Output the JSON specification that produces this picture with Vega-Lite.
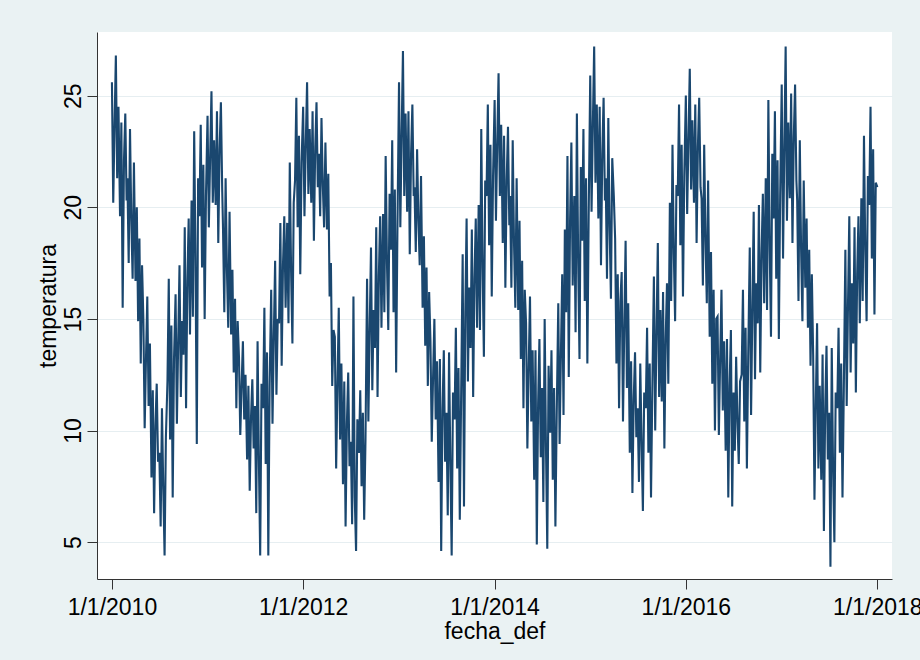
{
"$schema": "https://vega.github.io/schema/vega-lite/v6.json",
"width": 795,
"height": 547,
"autosize": {"type": "none"},
"padding": {"left": 97, "top": 32, "right": 28, "bottom": 81},
"background": "#EAF2F3",
"view": {"fill": "white", "stroke": null},
"config": {"font": "Liberation Sans"},
"data": {"values": [
{"d":"2010-01-01","t":25.6},{"d":"2010-01-06","t":20.2},{"d":"2010-01-11","t":23.7},{"d":"2010-01-16","t":26.8},{"d":"2010-01-21","t":21.3},{"d":"2010-01-26","t":24.5},
{"d":"2010-02-01","t":19.6},{"d":"2010-02-06","t":23.8},{"d":"2010-02-11","t":15.5},{"d":"2010-02-16","t":22.1},{"d":"2010-02-21","t":24.2},{"d":"2010-02-26","t":20.3},
{"d":"2010-03-01","t":21.3},{"d":"2010-03-06","t":17.5},{"d":"2010-03-11","t":23.5},{"d":"2010-03-16","t":19.4},{"d":"2010-03-21","t":16.8},{"d":"2010-03-26","t":22.0},
{"d":"2010-04-01","t":16.7},{"d":"2010-04-06","t":20.0},{"d":"2010-04-11","t":14.9},{"d":"2010-04-16","t":18.6},{"d":"2010-04-21","t":13.0},{"d":"2010-04-26","t":17.4},
{"d":"2010-05-01","t":15.0},{"d":"2010-05-06","t":10.1},{"d":"2010-05-11","t":13.2},{"d":"2010-05-16","t":16.0},{"d":"2010-05-21","t":11.1},{"d":"2010-05-26","t":13.9},
{"d":"2010-06-01","t":7.9},{"d":"2010-06-06","t":11.8},{"d":"2010-06-11","t":6.3},{"d":"2010-06-16","t":10.2},{"d":"2010-06-21","t":12.1},{"d":"2010-06-26","t":8.6},
{"d":"2010-07-01","t":9.0},{"d":"2010-07-06","t":5.7},{"d":"2010-07-11","t":11.0},{"d":"2010-07-16","t":7.4},{"d":"2010-07-21","t":4.4},{"d":"2010-07-26","t":9.7},
{"d":"2010-08-01","t":12.2},{"d":"2010-08-06","t":16.8},{"d":"2010-08-11","t":9.6},{"d":"2010-08-16","t":14.7},{"d":"2010-08-21","t":7.0},{"d":"2010-08-26","t":13.2},
{"d":"2010-09-01","t":16.1},{"d":"2010-09-06","t":10.3},{"d":"2010-09-11","t":14.0},{"d":"2010-09-16","t":17.4},{"d":"2010-09-21","t":11.5},{"d":"2010-09-26","t":14.9},
{"d":"2010-10-01","t":13.4},{"d":"2010-10-06","t":19.1},{"d":"2010-10-11","t":11.0},{"d":"2010-10-16","t":16.7},{"d":"2010-10-21","t":19.5},{"d":"2010-10-26","t":14.3},
{"d":"2010-11-01","t":20.3},{"d":"2010-11-06","t":15.1},{"d":"2010-11-11","t":23.4},{"d":"2010-11-16","t":17.7},{"d":"2010-11-21","t":9.4},{"d":"2010-11-26","t":21.3},
{"d":"2010-12-01","t":19.6},{"d":"2010-12-06","t":23.7},{"d":"2010-12-11","t":17.3},{"d":"2010-12-16","t":21.9},{"d":"2010-12-21","t":15.0},{"d":"2010-12-26","t":20.5},
{"d":"2011-01-01","t":24.1},{"d":"2011-01-06","t":19.1},{"d":"2011-01-11","t":22.3},{"d":"2011-01-16","t":25.2},{"d":"2011-01-21","t":20.2},{"d":"2011-01-26","t":23.0},
{"d":"2011-02-01","t":20.1},{"d":"2011-02-06","t":24.3},{"d":"2011-02-11","t":18.4},{"d":"2011-02-16","t":22.6},{"d":"2011-02-21","t":24.7},{"d":"2011-02-26","t":20.8},
{"d":"2011-03-01","t":19.1},{"d":"2011-03-06","t":15.3},{"d":"2011-03-11","t":21.3},{"d":"2011-03-16","t":17.2},{"d":"2011-03-21","t":14.6},{"d":"2011-03-26","t":19.8},
{"d":"2011-04-01","t":14.3},{"d":"2011-04-06","t":17.2},{"d":"2011-04-11","t":12.6},{"d":"2011-04-16","t":15.9},{"d":"2011-04-21","t":11.0},{"d":"2011-04-26","t":14.9},
{"d":"2011-05-01","t":13.3},{"d":"2011-05-06","t":9.8},{"d":"2011-05-11","t":12.0},{"d":"2011-05-16","t":14.0},{"d":"2011-05-21","t":10.5},{"d":"2011-05-26","t":12.5},
{"d":"2011-06-01","t":8.7},{"d":"2011-06-06","t":12.0},{"d":"2011-06-11","t":7.3},{"d":"2011-06-16","t":10.6},{"d":"2011-06-21","t":12.3},{"d":"2011-06-26","t":9.2},
{"d":"2011-07-01","t":11.1},{"d":"2011-07-06","t":6.3},{"d":"2011-07-11","t":14.0},{"d":"2011-07-16","t":8.7},{"d":"2011-07-21","t":4.4},{"d":"2011-07-26","t":12.1},
{"d":"2011-08-01","t":11.0},{"d":"2011-08-06","t":15.5},{"d":"2011-08-11","t":8.5},{"d":"2011-08-16","t":13.5},{"d":"2011-08-21","t":4.4},{"d":"2011-08-26","t":12.0},
{"d":"2011-09-01","t":16.3},{"d":"2011-09-06","t":10.3},{"d":"2011-09-11","t":14.2},{"d":"2011-09-16","t":17.6},{"d":"2011-09-21","t":11.6},{"d":"2011-09-26","t":15.0},
{"d":"2011-10-01","t":14.8},{"d":"2011-10-06","t":19.3},{"d":"2011-10-11","t":12.9},{"d":"2011-10-16","t":17.4},{"d":"2011-10-21","t":19.6},{"d":"2011-10-26","t":15.5},
{"d":"2011-11-01","t":19.3},{"d":"2011-11-06","t":14.8},{"d":"2011-11-11","t":22.0},{"d":"2011-11-16","t":17.1},{"d":"2011-11-21","t":13.9},{"d":"2011-11-26","t":20.2},
{"d":"2011-12-01","t":21.2},{"d":"2011-12-06","t":24.9},{"d":"2011-12-11","t":19.1},{"d":"2011-12-16","t":23.2},{"d":"2011-12-21","t":17.0},{"d":"2011-12-26","t":22.0},
{"d":"2012-01-01","t":24.5},{"d":"2012-01-06","t":19.6},{"d":"2012-01-11","t":22.8},{"d":"2012-01-16","t":25.6},{"d":"2012-01-21","t":20.6},{"d":"2012-01-26","t":23.5},
{"d":"2012-02-01","t":20.2},{"d":"2012-02-06","t":24.3},{"d":"2012-02-11","t":18.5},{"d":"2012-02-16","t":22.6},{"d":"2012-02-21","t":24.7},{"d":"2012-02-26","t":20.9},
{"d":"2012-03-01","t":22.4},{"d":"2012-03-06","t":19.6},{"d":"2012-03-11","t":24.0},{"d":"2012-03-16","t":21.0},{"d":"2012-03-21","t":19.1},{"d":"2012-03-26","t":22.9},
{"d":"2012-04-01","t":19.0},{"d":"2012-04-06","t":21.5},{"d":"2012-04-11","t":16.0},{"d":"2012-04-16","t":17.5},{"d":"2012-04-21","t":12.0},{"d":"2012-04-26","t":14.5},
{"d":"2012-05-01","t":14.2},{"d":"2012-05-06","t":8.3},{"d":"2012-05-11","t":12.1},{"d":"2012-05-16","t":15.5},{"d":"2012-05-21","t":9.6},{"d":"2012-05-26","t":13.0},
{"d":"2012-06-01","t":7.6},{"d":"2012-06-06","t":12.2},{"d":"2012-06-11","t":5.7},{"d":"2012-06-16","t":10.3},{"d":"2012-06-21","t":12.6},{"d":"2012-06-26","t":8.4},
{"d":"2012-07-01","t":9.5},{"d":"2012-07-06","t":5.8},{"d":"2012-07-11","t":16.0},{"d":"2012-07-16","t":7.0},{"d":"2012-07-21","t":4.6},{"d":"2012-07-26","t":10.5},
{"d":"2012-08-01","t":9.0},{"d":"2012-08-06","t":11.8},{"d":"2012-08-11","t":7.5},{"d":"2012-08-16","t":10.8},{"d":"2012-08-21","t":6.0},{"d":"2012-08-26","t":9.6},
{"d":"2012-09-01","t":16.8},{"d":"2012-09-06","t":10.4},{"d":"2012-09-11","t":14.5},{"d":"2012-09-16","t":18.2},{"d":"2012-09-21","t":11.8},{"d":"2012-09-26","t":15.4},
{"d":"2012-10-01","t":13.7},{"d":"2012-10-06","t":19.1},{"d":"2012-10-11","t":11.5},{"d":"2012-10-16","t":16.9},{"d":"2012-10-21","t":19.6},{"d":"2012-10-26","t":14.6},
{"d":"2012-11-01","t":19.7},{"d":"2012-11-06","t":15.3},{"d":"2012-11-11","t":22.3},{"d":"2012-11-16","t":17.5},{"d":"2012-11-21","t":14.5},{"d":"2012-11-26","t":20.6},
{"d":"2012-12-01","t":18.1},{"d":"2012-12-06","t":23.0},{"d":"2012-12-11","t":15.3},{"d":"2012-12-16","t":20.8},{"d":"2012-12-21","t":12.6},{"d":"2012-12-26","t":19.1},
{"d":"2013-01-01","t":25.6},{"d":"2013-01-06","t":19.1},{"d":"2013-01-11","t":23.3},{"d":"2013-01-16","t":27.0},{"d":"2013-01-21","t":20.5},{"d":"2013-01-26","t":24.2},
{"d":"2013-02-01","t":19.8},{"d":"2013-02-06","t":24.3},{"d":"2013-02-11","t":17.9},{"d":"2013-02-16","t":22.4},{"d":"2013-02-21","t":24.6},{"d":"2013-02-26","t":20.5},
{"d":"2013-03-01","t":20.9},{"d":"2013-03-06","t":18.0},{"d":"2013-03-11","t":22.6},{"d":"2013-03-16","t":19.4},{"d":"2013-03-21","t":17.4},{"d":"2013-03-26","t":21.4},
{"d":"2013-04-01","t":15.5},{"d":"2013-04-06","t":18.7},{"d":"2013-04-11","t":13.8},{"d":"2013-04-16","t":17.3},{"d":"2013-04-21","t":12.0},{"d":"2013-04-26","t":16.2},
{"d":"2013-05-01","t":14.0},{"d":"2013-05-06","t":9.5},{"d":"2013-05-11","t":12.4},{"d":"2013-05-16","t":15.0},{"d":"2013-05-21","t":10.5},{"d":"2013-05-26","t":13.1},
{"d":"2013-06-01","t":7.7},{"d":"2013-06-06","t":13.2},{"d":"2013-06-11","t":4.6},{"d":"2013-06-16","t":10.9},{"d":"2013-06-21","t":13.6},{"d":"2013-06-26","t":8.6},
{"d":"2013-07-01","t":10.8},{"d":"2013-07-06","t":6.2},{"d":"2013-07-11","t":13.5},{"d":"2013-07-16","t":8.5},{"d":"2013-07-21","t":4.4},{"d":"2013-07-26","t":11.7},
{"d":"2013-08-01","t":10.5},{"d":"2013-08-06","t":14.6},{"d":"2013-08-11","t":8.3},{"d":"2013-08-16","t":12.8},{"d":"2013-08-21","t":6.0},{"d":"2013-08-26","t":11.4},
{"d":"2013-09-01","t":17.9},{"d":"2013-09-06","t":6.6},{"d":"2013-09-11","t":15.3},{"d":"2013-09-16","t":19.5},{"d":"2013-09-21","t":12.2},{"d":"2013-09-26","t":16.4},
{"d":"2013-10-01","t":13.7},{"d":"2013-10-06","t":19.0},{"d":"2013-10-11","t":11.5},{"d":"2013-10-16","t":16.8},{"d":"2013-10-21","t":19.5},{"d":"2013-10-26","t":14.6},
{"d":"2013-11-01","t":20.1},{"d":"2013-11-06","t":14.5},{"d":"2013-11-11","t":23.5},{"d":"2013-11-16","t":17.3},{"d":"2013-11-21","t":13.3},{"d":"2013-11-26","t":21.2},
{"d":"2013-12-01","t":20.5},{"d":"2013-12-06","t":24.6},{"d":"2013-12-11","t":18.3},{"d":"2013-12-16","t":22.8},{"d":"2013-12-21","t":16.0},{"d":"2013-12-26","t":21.4},
{"d":"2014-01-01","t":24.8},{"d":"2014-01-06","t":19.4},{"d":"2014-01-11","t":22.9},{"d":"2014-01-16","t":26.0},{"d":"2014-01-21","t":20.5},{"d":"2014-01-26","t":23.7},
{"d":"2014-02-01","t":18.4},{"d":"2014-02-06","t":23.2},{"d":"2014-02-11","t":16.4},{"d":"2014-02-16","t":21.2},{"d":"2014-02-21","t":23.6},{"d":"2014-02-26","t":19.2},
{"d":"2014-03-01","t":20.5},{"d":"2014-03-06","t":16.4},{"d":"2014-03-11","t":23.0},{"d":"2014-03-16","t":18.4},{"d":"2014-03-21","t":15.5},{"d":"2014-03-26","t":21.3},
{"d":"2014-04-01","t":15.4},{"d":"2014-04-06","t":19.4},{"d":"2014-04-11","t":13.2},{"d":"2014-04-16","t":17.6},{"d":"2014-04-21","t":11.0},{"d":"2014-04-26","t":16.3},
{"d":"2014-05-01","t":14.8},{"d":"2014-05-06","t":9.2},{"d":"2014-05-11","t":12.8},{"d":"2014-05-16","t":16.0},{"d":"2014-05-21","t":10.4},{"d":"2014-05-26","t":13.6},
{"d":"2014-06-01","t":7.8},{"d":"2014-06-06","t":13.6},{"d":"2014-06-11","t":4.9},{"d":"2014-06-16","t":11.2},{"d":"2014-06-21","t":14.1},{"d":"2014-06-26","t":8.8},
{"d":"2014-07-01","t":11.9},{"d":"2014-07-06","t":6.8},{"d":"2014-07-11","t":15.0},{"d":"2014-07-16","t":9.3},{"d":"2014-07-21","t":4.7},{"d":"2014-07-26","t":12.9},
{"d":"2014-08-01","t":9.9},{"d":"2014-08-06","t":13.6},{"d":"2014-08-11","t":7.8},{"d":"2014-08-16","t":11.9},{"d":"2014-08-21","t":5.7},{"d":"2014-08-26","t":10.7},
{"d":"2014-09-01","t":15.7},{"d":"2014-09-06","t":9.4},{"d":"2014-09-11","t":13.4},{"d":"2014-09-16","t":17.0},{"d":"2014-09-21","t":10.7},{"d":"2014-09-26","t":19.0},
{"d":"2014-10-01","t":15.3},{"d":"2014-10-06","t":22.3},{"d":"2014-10-11","t":12.4},{"d":"2014-10-16","t":19.4},{"d":"2014-10-21","t":22.9},{"d":"2014-10-26","t":16.5},
{"d":"2014-11-01","t":20.5},{"d":"2014-11-06","t":14.4},{"d":"2014-11-11","t":24.2},{"d":"2014-11-16","t":17.5},{"d":"2014-11-21","t":13.2},{"d":"2014-11-26","t":21.8},
{"d":"2014-12-01","t":18.5},{"d":"2014-12-06","t":23.5},{"d":"2014-12-11","t":15.8},{"d":"2014-12-16","t":21.3},{"d":"2014-12-21","t":13.0},{"d":"2014-12-26","t":19.6},
{"d":"2015-01-01","t":25.9},{"d":"2015-01-06","t":19.8},{"d":"2015-01-11","t":23.7},{"d":"2015-01-16","t":27.2},{"d":"2015-01-21","t":21.1},{"d":"2015-01-26","t":24.6},
{"d":"2015-02-01","t":19.5},{"d":"2015-02-06","t":24.5},{"d":"2015-02-11","t":17.4},{"d":"2015-02-16","t":22.4},{"d":"2015-02-21","t":24.9},{"d":"2015-02-26","t":20.3},
{"d":"2015-03-01","t":21.3},{"d":"2015-03-06","t":16.8},{"d":"2015-03-11","t":24.0},{"d":"2015-03-16","t":19.1},{"d":"2015-03-21","t":15.9},{"d":"2015-03-26","t":22.2},
{"d":"2015-04-01","t":20.5},{"d":"2015-04-06","t":18.6},{"d":"2015-04-11","t":13.0},{"d":"2015-04-16","t":17.0},{"d":"2015-04-21","t":11.0},{"d":"2015-04-26","t":15.8},
{"d":"2015-05-01","t":17.1},{"d":"2015-05-06","t":10.4},{"d":"2015-05-11","t":14.7},{"d":"2015-05-16","t":18.5},{"d":"2015-05-21","t":11.9},{"d":"2015-05-26","t":15.7},
{"d":"2015-06-01","t":9.0},{"d":"2015-06-06","t":13.1},{"d":"2015-06-11","t":7.2},{"d":"2015-06-16","t":11.4},{"d":"2015-06-21","t":13.5},{"d":"2015-06-26","t":9.7},
{"d":"2015-07-01","t":11.0},{"d":"2015-07-06","t":7.7},{"d":"2015-07-11","t":13.0},{"d":"2015-07-16","t":9.4},{"d":"2015-07-21","t":6.4},{"d":"2015-07-26","t":11.7},
{"d":"2015-08-01","t":11.0},{"d":"2015-08-06","t":14.6},{"d":"2015-08-11","t":9.0},{"d":"2015-08-16","t":13.0},{"d":"2015-08-21","t":7.0},{"d":"2015-08-26","t":11.8},
{"d":"2015-09-01","t":16.9},{"d":"2015-09-06","t":10.0},{"d":"2015-09-11","t":14.4},{"d":"2015-09-16","t":18.4},{"d":"2015-09-21","t":11.5},{"d":"2015-09-26","t":15.4},
{"d":"2015-10-01","t":11.3},{"d":"2015-10-06","t":16.2},{"d":"2015-10-11","t":9.2},{"d":"2015-10-16","t":14.1},{"d":"2015-10-21","t":16.6},{"d":"2015-10-26","t":12.1},
{"d":"2015-11-01","t":20.2},{"d":"2015-11-06","t":15.8},{"d":"2015-11-11","t":22.8},{"d":"2015-11-16","t":18.0},{"d":"2015-11-21","t":14.9},{"d":"2015-11-26","t":21.0},
{"d":"2015-12-01","t":20.5},{"d":"2015-12-06","t":24.6},{"d":"2015-12-11","t":18.3},{"d":"2015-12-16","t":22.8},{"d":"2015-12-21","t":16.0},{"d":"2015-12-26","t":21.4},
{"d":"2016-01-01","t":25.0},{"d":"2016-01-06","t":19.7},{"d":"2016-01-11","t":23.1},{"d":"2016-01-16","t":26.2},{"d":"2016-01-21","t":20.8},{"d":"2016-01-26","t":23.9},
{"d":"2016-02-01","t":20.2},{"d":"2016-02-06","t":24.6},{"d":"2016-02-11","t":18.4},{"d":"2016-02-16","t":22.7},{"d":"2016-02-21","t":24.9},{"d":"2016-02-26","t":20.9},
{"d":"2016-03-01","t":20.4},{"d":"2016-03-06","t":16.5},{"d":"2016-03-11","t":22.8},{"d":"2016-03-16","t":18.5},{"d":"2016-03-21","t":15.7},{"d":"2016-03-26","t":21.2},
{"d":"2016-04-01","t":14.2},{"d":"2016-04-06","t":18.0},{"d":"2016-04-11","t":12.1},{"d":"2016-04-16","t":16.3},{"d":"2016-04-21","t":10.0},{"d":"2016-04-26","t":15.0},
{"d":"2016-05-01","t":15.1},{"d":"2016-05-06","t":9.8},{"d":"2016-05-11","t":13.2},{"d":"2016-05-16","t":16.3},{"d":"2016-05-21","t":10.9},{"d":"2016-05-26","t":14.0},
{"d":"2016-06-01","t":9.1},{"d":"2016-06-06","t":14.1},{"d":"2016-06-11","t":7.0},{"d":"2016-06-16","t":12.0},{"d":"2016-06-21","t":14.5},{"d":"2016-06-26","t":6.6},
{"d":"2016-07-01","t":11.7},{"d":"2016-07-06","t":9.1},{"d":"2016-07-11","t":13.3},{"d":"2016-07-16","t":10.4},{"d":"2016-07-21","t":8.5},{"d":"2016-07-26","t":12.2},
{"d":"2016-08-01","t":12.5},{"d":"2016-08-06","t":16.3},{"d":"2016-08-11","t":10.4},{"d":"2016-08-16","t":14.6},{"d":"2016-08-21","t":8.3},{"d":"2016-08-26","t":13.3},
{"d":"2016-09-01","t":18.2},{"d":"2016-09-06","t":10.7},{"d":"2016-09-11","t":15.5},{"d":"2016-09-16","t":19.8},{"d":"2016-09-21","t":12.3},{"d":"2016-09-26","t":16.6},
{"d":"2016-10-01","t":14.8},{"d":"2016-10-06","t":20.1},{"d":"2016-10-11","t":12.6},{"d":"2016-10-16","t":17.9},{"d":"2016-10-21","t":20.6},{"d":"2016-10-26","t":15.7},
{"d":"2016-11-01","t":21.3},{"d":"2016-11-06","t":15.4},{"d":"2016-11-11","t":24.8},{"d":"2016-11-16","t":18.3},{"d":"2016-11-21","t":14.2},{"d":"2016-11-26","t":22.4},
{"d":"2016-12-01","t":19.5},{"d":"2016-12-06","t":24.3},{"d":"2016-12-11","t":16.8},{"d":"2016-12-16","t":22.1},{"d":"2016-12-21","t":14.1},{"d":"2016-12-26","t":20.5},
{"d":"2017-01-01","t":25.5},{"d":"2017-01-06","t":17.7},{"d":"2017-01-11","t":22.7},{"d":"2017-01-16","t":27.2},{"d":"2017-01-21","t":19.4},{"d":"2017-01-26","t":23.8},
{"d":"2017-02-01","t":20.4},{"d":"2017-02-06","t":25.1},{"d":"2017-02-11","t":18.4},{"d":"2017-02-16","t":23.1},{"d":"2017-02-21","t":25.5},{"d":"2017-02-26","t":21.2},
{"d":"2017-03-01","t":20.3},{"d":"2017-03-06","t":15.8},{"d":"2017-03-11","t":23.0},{"d":"2017-03-16","t":18.1},{"d":"2017-03-21","t":14.9},{"d":"2017-03-26","t":21.2},
{"d":"2017-04-01","t":16.4},{"d":"2017-04-06","t":19.5},{"d":"2017-04-11","t":14.6},{"d":"2017-04-16","t":18.1},{"d":"2017-04-21","t":12.9},{"d":"2017-04-26","t":17.0},
{"d":"2017-05-01","t":13.4},{"d":"2017-05-06","t":6.9},{"d":"2017-05-11","t":11.1},{"d":"2017-05-16","t":14.8},{"d":"2017-05-21","t":8.3},{"d":"2017-05-26","t":12.0},
{"d":"2017-06-01","t":7.8},{"d":"2017-06-06","t":13.4},{"d":"2017-06-11","t":5.5},{"d":"2017-06-16","t":11.0},{"d":"2017-06-21","t":13.8},{"d":"2017-06-26","t":8.7},
{"d":"2017-07-01","t":10.8},{"d":"2017-07-06","t":3.9},{"d":"2017-07-11","t":13.7},{"d":"2017-07-16","t":8.3},{"d":"2017-07-21","t":5.0},{"d":"2017-07-26","t":11.7},
{"d":"2017-08-01","t":11.0},{"d":"2017-08-06","t":14.6},{"d":"2017-08-11","t":9.0},{"d":"2017-08-16","t":13.0},{"d":"2017-08-21","t":7.0},{"d":"2017-08-26","t":11.8},
{"d":"2017-09-01","t":18.1},{"d":"2017-09-06","t":11.1},{"d":"2017-09-11","t":15.6},{"d":"2017-09-16","t":19.6},{"d":"2017-09-21","t":12.6},{"d":"2017-09-26","t":16.6},
{"d":"2017-10-01","t":13.9},{"d":"2017-10-06","t":19.1},{"d":"2017-10-11","t":11.7},{"d":"2017-10-16","t":17.0},{"d":"2017-10-21","t":19.6},{"d":"2017-10-26","t":14.8},
{"d":"2017-11-01","t":20.4},{"d":"2017-11-06","t":15.8},{"d":"2017-11-11","t":23.2},{"d":"2017-11-16","t":18.1},{"d":"2017-11-21","t":14.9},{"d":"2017-11-26","t":21.4},
{"d":"2017-12-01","t":20.1},{"d":"2017-12-06","t":24.5},{"d":"2017-12-11","t":17.7},{"d":"2017-12-16","t":22.6},{"d":"2017-12-21","t":15.2},{"d":"2017-12-26","t":21.1},
{"d":"2018-01-01","t":20.9}
]},
"mark": {"type": "line", "color": "#1A476F", "strokeWidth": 2.1},
"encoding": {
"x": {"field": "d", "type": "temporal", "title": "fecha_def",
 "scale": {"type": "utc", "domain": [{"year": 2009, "month": 11, "date": 5, "utc": true}, {"year": 2018, "month": 2, "date": 26, "utc": true}]},
 "axis": {"values": [{"year": 2010, "month": 1, "date": 1, "utc": true}, {"year": 2012, "month": 1, "date": 1, "utc": true}, {"year": 2014, "month": 1, "date": 1, "utc": true}, {"year": 2016, "month": 1, "date": 1, "utc": true}, {"year": 2018, "month": 1, "date": 1, "utc": true}],
  "format": "%-m/%-d/%Y", "grid": false, "domainColor": "#333", "tickColor": "#333", "tickSize": 10, "labelFontSize": 23, "labelColor": "#000", "labelPadding": 7, "labelBaseline": "top", "labelFlush": false, "labelOverlap": false, "titleFontSize": 23, "titleFontWeight": "normal", "titleColor": "#000", "titlePadding": 1}},
"y": {"field": "t", "type": "quantitative", "title": "temperatura",
 "scale": {"domain": [3.35, 27.85], "nice": false, "zero": false},
 "axis": {"values": [5, 10, 15, 20, 25], "grid": true, "gridColor": "#E6EEF1", "gridWidth": 1.2, "domainColor": "#333", "tickColor": "#333", "tickSize": 10, "labelFontSize": 23, "labelColor": "#000", "labelAngle": -90, "labelAlign": "center", "labelBaseline": "alphabetic", "labelPadding": 7, "titleFontSize": 23, "titleFontWeight": "normal", "titleColor": "#000", "titlePadding": 2}}
}
}
